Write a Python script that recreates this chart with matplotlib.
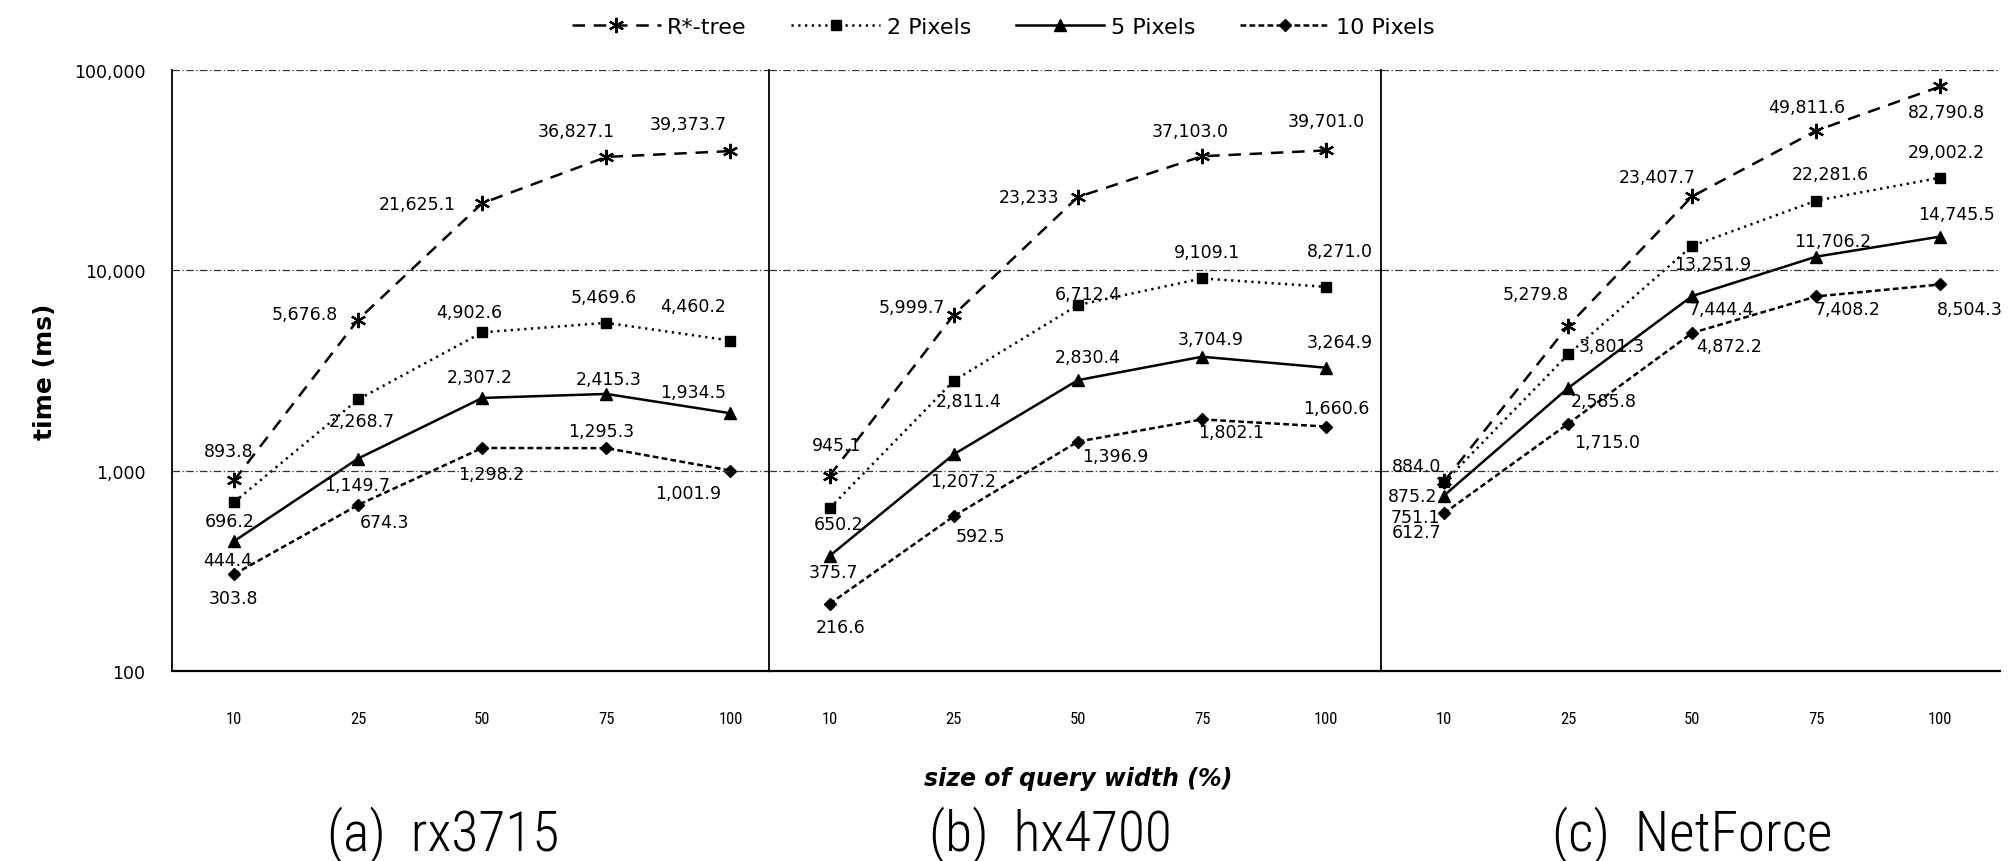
import matplotlib
matplotlib.use('Agg')
import matplotlib.pyplot as plt
from matplotlib import font_manager
from matplotlib.ticker import FixedLocator, NullLocator

# fonts: use a narrow sans for captions / x ticks if one is installed
fonts = font_manager.fontManager.ttflist
names = {f.name for f in fonts}
narrow = None
for cand in ['Liberation Sans Narrow', 'Roboto Condensed', 'DejaVu Sans Condensed',
             'Open Sans Condensed', 'Noto Sans Condensed']:
    if cand in names:
        narrow = cand
        break
base = narrow or ('Roboto' if 'Roboto' in names else 'DejaVu Sans')
plt.rcParams['font.family'] = [base, 'DejaVu Sans']
has_light = any(f.name == base and f.weight in (300, 'light') for f in fonts)
plain = ['DejaVu Sans']

# data
sizes = ['10', '25', '50', '75', '100']
captions = ['(a)  rx3715', '(b)  hx4700', '(c)  NetForce']
series_names = ['R*-tree', '2 Pixels', '5 Pixels', '10 Pixels']

rtree = [[893.8, 5676.8, 21625.1, 36827.1, 39373.7],
         [945.1, 5999.7, 23233.0, 37103.0, 39701.0],
         [884.0, 5279.8, 23407.7, 49811.6, 82790.8]]
pix2 = [[696.2, 2268.7, 4902.6, 5469.6, 4460.2],
        [650.2, 2811.4, 6712.4, 9109.1, 8271.0],
        [875.2, 3801.3, 13251.9, 22281.6, 29002.2]]
pix5 = [[444.4, 1149.7, 2307.2, 2415.3, 1934.5],
        [375.7, 1207.2, 2830.4, 3704.9, 3264.9],
        [751.1, 2585.8, 7444.4, 11706.2, 14745.5]]
pix10 = [[303.8, 674.3, 1298.2, 1295.3, 1001.9],
         [216.6, 592.5, 1396.9, 1802.1, 1660.6],
         [612.7, 1715.0, 4872.2, 7408.2, 8504.3]]
label_text = {(1, 0, 2): '23,233'}  # printed without decimal

# label offsets in pixels (dx right, dy down) per panel / series / point
offsets = [
    [[(-5, -29), (-53, -6), (-65, 1), (-30, -26), (-42, -27)],
     [(-4, 19), (4, 22), (-13, -20), (-3, -26), (-37, -35)],
     [(-6, 19), (-1, 26), (-3, -21), (2, -15), (-37, -21)],
     [(-1, 24), (26, 17), (9, 26), (-5, -17), (-42, 22)]],
    [[(7, -31), (-42, -8), (-49, 0), (-12, -25), (0, -29)],
     [(9, 16), (15, 20), (10, -11), (5, -26), (14, -36)],
     [(4, 16), (9, 27), (10, -23), (9, -18), (14, -26)],
     [(11, 23), (27, 20), (37, 14), (29, 13), (10, -19)]],
    [[(-27, -15), (-32, -32), (-35, -19), (-10, -24), (6, 26)],
     [(-31, 14), (44, -8), (20, 18), (14, -27), (6, -26)],
     [(-29, 21), (36, 13), (29, 13), (16, -16), (16, -23)],
     [(-27, 19), (39, 18), (37, 13), (31, 13), (29, 25)]],
]

styles = [
    dict(marker=(6, 2, 0), markersize=11, dashes=(5, 3.5), markeredgewidth=1.6),
    dict(marker='s', markersize=7.5, dashes=(0.9, 1.8)),
    dict(marker='^', markersize=8, linestyle='-'),
    dict(marker='D', markersize=6, dashes=(2.3, 1.3)),
]

xlims = [(-0.50, 4.31), (-0.49, 4.44), (-0.51, 4.48)]
widths = [b - a for a, b in xlims]
caption_x = [443, 1050, 1692]

fig = plt.figure(figsize=(20.13, 8.62), dpi=100)
gs = fig.add_gridspec(1, 3, width_ratios=widths, wspace=0,
                      left=172/2013, right=2000/2013, top=1-71/862, bottom=1-672/862)

grid_kw = dict(color='0.2', linewidth=0.9, linestyle=(0, (6, 2, 1, 2)))
handles = []
for p in range(3):
    ax = fig.add_subplot(gs[0, p])
    ax.set_yscale('log')
    ax.set_ylim(100, 100000)
    ax.set_xlim(*xlims[p])
    x = list(range(len(sizes)))
    data = [rtree[p], pix2[p], pix5[p], pix10[p]]
    for s, vals in enumerate(data):
        line, = ax.plot(x, vals, color='black', linewidth=1.8,
                        label=series_names[s], **styles[s])
        if p == 0:
            handles.append(line)
        for k, v in enumerate(vals):
            txt = label_text.get((p, s, k), f'{v:,.1f}')
            dx, dy = offsets[p][s][k]
            ax.annotate(txt, (k, v), xytext=(dx, -dy), textcoords='offset pixels',
                        ha='center', va='center', fontsize=12.5, family=plain)
    for yv in [1000, 10000, 100000]:
        ax.axhline(yv, **grid_kw)
    ax.set_xticks(x)
    ax.set_xticklabels(sizes, fontsize=12)
    ax.tick_params(axis='x', length=0, pad=29)
    ax.yaxis.set_minor_locator(NullLocator())
    ax.yaxis.set_major_locator(FixedLocator([100, 1000, 10000, 100000]))
    if p == 0:
        ax.set_yticklabels(['100', '1,000', '10,000', '100,000'], fontsize=12.5,
                           family=plain)
        ax.tick_params(axis='y', length=0, pad=19)
    else:
        ax.tick_params(axis='y', length=0, labelleft=False)
    ax.spines['top'].set_visible(False)
    ax.spines['right'].set_visible(False)
    ax.spines['left'].set_linewidth(1.3)
    ax.spines['bottom'].set_linewidth(1.6)
    fig.text(caption_x[p] / 2013, 1 - 835/862, captions[p], ha='center', va='center',
             fontsize=40 if narrow else 33,
             fontweight='light' if has_light else 'normal')

fig.text(45/2013, 1 - 372/862, 'time (ms)', rotation=90, ha='center', va='center',
         fontsize=18, fontweight='bold', family=plain)
fig.text(1078/2013, 1 - 779/862, 'size of query width (%)', ha='center', va='center',
         fontsize=17, fontweight='bold', fontstyle='italic', family=plain)

fig.legend(handles, series_names, loc='center', bbox_to_anchor=(1003/2013, 1 - 28/862),
           ncol=4, frameon=False, prop={'family': plain, 'size': 16},
           handlelength=4.0, columnspacing=2.0, handletextpad=0.3)

fig.savefig('out.png', dpi=100)
